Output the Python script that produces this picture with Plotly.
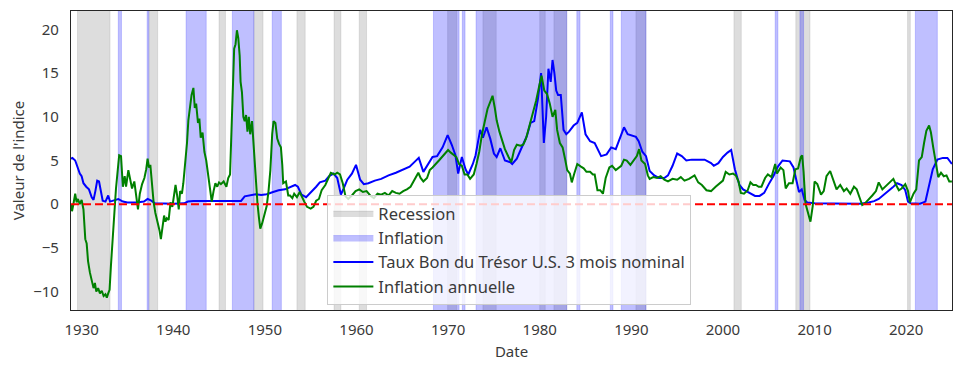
import plotly.graph_objects as go

# ---------------- data (decimal years) ----------------
recession_start = [1929.55, 1937.35, 1945.0, 1948.8, 1953.5, 1957.55, 1960.3, 1969.95,
                   1973.8, 1980.0, 1981.55, 1990.5, 2001.2, 2007.95, 2020.15]
recession_end = [1933.1, 1938.3, 1945.7, 1949.8, 1954.4, 1958.3, 1961.1, 1970.95,
                 1975.25, 1980.6, 1982.95, 1991.6, 2002.0, 2009.5, 2020.45]

inflation_start = [1934.0, 1937.15, 1941.4, 1946.45, 1950.8, 1968.4, 1971.55, 1973.05,
                   1984.05, 1987.7, 1988.9, 2005.7, 2008.4, 2021.0]
inflation_end = [1934.35, 1937.33, 1943.6, 1948.8, 1951.8, 1971.2, 1971.85, 1982.95,
                 1984.4, 1988.0, 1991.6, 2006.0, 2008.8, 2023.4]

tbill_dates = [1928.84, 1929.0, 1929.3, 1929.6, 1929.8, 1930.0, 1930.2, 1930.5, 1930.8, 1931.1,
               1931.3, 1931.5, 1931.7, 1931.9, 1932.1, 1932.3, 1932.6, 1932.9, 1933.1, 1933.5,
               1934.0, 1934.5, 1935.0, 1936.0, 1936.8, 1937.2, 1937.6, 1938.0, 1939.0, 1940.0,
               1941.2, 1941.6, 1942.2, 1947.4, 1947.8, 1948.3, 1949.0, 1949.6, 1950.2, 1950.9,
               1951.5, 1952.2, 1952.8, 1953.3, 1953.6, 1954.0, 1954.5, 1955.0, 1955.6, 1956.0,
               1956.6, 1957.0, 1957.5, 1957.9, 1958.3, 1958.6, 1959.0, 1959.5, 1959.95, 1960.4,
               1960.8, 1961.3, 1962.0, 1962.7, 1963.5, 1964.3, 1965.0, 1965.8, 1966.4, 1966.8,
               1967.3, 1967.8, 1968.3, 1968.8, 1969.4, 1969.95, 1970.4, 1970.8, 1971.1, 1971.5,
               1971.9, 1972.2, 1972.7, 1973.0, 1973.5, 1973.8, 1974.2, 1974.6, 1975.0, 1975.3,
               1975.7, 1976.2, 1976.8, 1977.0, 1977.5, 1978.0, 1978.6, 1979.0, 1979.4, 1979.8,
               1980.15, 1980.3, 1980.45, 1980.7, 1980.95, 1981.2, 1981.4, 1981.6, 1981.8, 1982.0,
               1982.3, 1982.6, 1982.9, 1983.2, 1983.7, 1984.1, 1984.6, 1985.0, 1985.5, 1986.0,
               1986.7, 1987.3, 1987.8, 1988.3, 1988.8, 1989.2, 1989.6, 1990.0, 1990.5, 1990.8,
               1991.2, 1991.6, 1992.0, 1992.5, 1993.0, 1993.6, 1994.0, 1994.5, 1995.0, 1995.5,
               1996.0, 1996.6, 1997.3, 1998.0, 1998.7, 1999.0, 1999.5, 2000.0, 2000.5, 2000.9,
               2001.3, 2001.8, 2002.2, 2002.9, 2003.5, 2004.0, 2004.5, 2005.0, 2005.5, 2006.0,
               2006.5, 2007.3, 2007.7, 2008.0, 2008.3, 2008.6, 2008.9, 2009.2, 2010.0, 2012.0,
               2015.0, 2015.9, 2016.5, 2017.0, 2017.5, 2018.0, 2018.5, 2019.0, 2019.5, 2019.9,
               2020.2, 2020.5, 2021.5, 2022.1, 2022.5, 2022.9, 2023.4, 2024.0, 2024.5, 2024.99]
tbill_values = [5.2, 5.3, 5.0, 4.0, 3.5, 3.2, 2.4, 2.0, 1.7, 0.8,
                0.5, 1.5, 2.7, 2.6, 1.5, 0.4, 0.3, 1.0, 0.3, 0.4,
                0.6, 0.3, 0.2, 0.2, 0.3, 0.6, 0.4, 0.1, 0.05, 0.05,
                0.1, 0.3, 0.37, 0.38, 0.9, 1.0, 1.15, 1.05, 1.15, 1.4,
                1.6, 1.7, 2.0, 2.2, 2.0, 1.1, 0.8, 1.3, 2.0, 2.5,
                2.7, 3.2, 3.5, 3.0, 1.1, 1.8, 2.8, 3.5, 4.5, 2.8,
                2.3, 2.4, 2.7, 2.9, 3.3, 3.6, 3.9, 4.3, 4.9, 5.3,
                3.7, 4.6, 5.4, 5.5, 6.5, 7.9, 6.8, 5.6, 3.5, 5.4,
                4.0, 3.4, 4.6, 5.6, 8.5, 7.6, 8.8, 7.5, 5.8, 5.4,
                6.4, 5.0, 4.8, 4.6, 5.2, 6.4, 7.8, 9.3, 9.5, 12.0,
                15.0, 11.0, 7.0, 10.0, 15.5, 14.0, 16.5, 15.0, 13.0, 12.5,
                12.5, 8.5, 8.0, 8.3, 9.0, 9.3, 10.5, 8.0, 7.2, 7.0,
                5.5, 5.7, 6.5, 6.3, 7.8, 8.8, 8.0, 7.9, 7.7, 7.2,
                6.0, 5.5, 3.8, 3.3, 3.0, 3.0, 3.3, 4.4, 5.8, 5.5,
                5.0, 5.1, 5.1, 5.1, 4.7, 4.4, 4.7, 5.4, 5.9, 6.2,
                4.0, 2.2, 1.7, 1.3, 0.95, 0.95, 1.3, 2.3, 3.2, 4.3,
                5.0, 4.9, 4.2, 2.8, 1.4, 1.7, 0.5, 0.2, 0.1, 0.08,
                0.05, 0.2, 0.35, 0.6, 1.0, 1.4, 1.9, 2.4, 2.2, 1.6,
                0.3, 0.1, 0.05, 0.3, 2.0, 4.0, 5.1, 5.3, 5.3, 4.6]

infl_dates = [1928.84, 1928.95, 1929.1, 1929.3, 1929.45, 1929.6, 1929.8, 1930.0, 1930.2, 1930.4,
              1930.55, 1930.7, 1930.9, 1931.1, 1931.3, 1931.45, 1931.6, 1931.8, 1932.0, 1932.2,
              1932.4, 1932.6, 1932.75, 1932.9, 1933.05, 1933.2, 1933.35, 1933.55, 1933.75, 1933.95,
              1934.1, 1934.3, 1934.5, 1934.7, 1934.85, 1935.1, 1935.3, 1935.5, 1935.75, 1936.0,
              1936.15, 1936.35, 1936.6, 1936.85, 1937.05, 1937.2, 1937.35, 1937.5, 1937.7, 1937.85,
              1938.05, 1938.3, 1938.5, 1938.65, 1938.8, 1939.0, 1939.15, 1939.3, 1939.5, 1939.7,
              1939.9, 1940.1, 1940.25, 1940.45, 1940.6, 1940.75, 1940.95, 1941.1, 1941.3, 1941.5,
              1941.65, 1941.85, 1942.0, 1942.2, 1942.35, 1942.5, 1942.7, 1942.85, 1943.0, 1943.2,
              1943.4, 1943.6, 1943.8, 1944.0, 1944.2, 1944.4, 1944.6, 1944.8, 1945.0, 1945.2,
              1945.5, 1945.8, 1946.0, 1946.2, 1946.35, 1946.5, 1946.65, 1946.8, 1946.95, 1947.1,
              1947.25, 1947.35, 1947.5, 1947.65, 1947.8, 1947.95, 1948.1, 1948.25, 1948.4, 1948.6,
              1948.75, 1948.9, 1949.05, 1949.2, 1949.35, 1949.5, 1949.7, 1949.85, 1950.0, 1950.2,
              1950.4, 1950.6, 1950.8, 1950.95, 1951.15, 1951.35, 1951.55, 1951.75, 1951.9, 1952.0,
              1952.3, 1952.55, 1952.75, 1953.0, 1953.2, 1953.5, 1953.8, 1954.05, 1954.3, 1954.6,
              1955.0, 1955.3, 1955.6, 1955.9, 1956.2, 1956.6, 1956.9, 1957.2, 1957.6, 1957.9,
              1958.2, 1958.5, 1958.8, 1959.1, 1959.5, 1959.9, 1960.3, 1960.7, 1961.1, 1961.5,
              1961.9, 1962.3, 1962.7, 1963.1, 1963.5, 1963.9, 1964.3, 1964.7, 1965.1, 1965.5,
              1965.9, 1966.3, 1966.75, 1967.0, 1967.3, 1967.7, 1968.0, 1968.3, 1968.7, 1969.0,
              1969.5, 1970.0, 1970.3, 1970.6, 1970.9, 1971.2, 1971.5, 1971.8, 1972.1, 1972.4,
              1972.8, 1973.1, 1973.4, 1973.7, 1974.0, 1974.3, 1974.6, 1974.85, 1975.1, 1975.3,
              1975.6, 1975.9, 1976.2, 1976.6, 1976.9, 1977.2, 1977.5, 1977.9, 1978.2, 1978.5,
              1978.9, 1979.2, 1979.6, 1979.9, 1980.2, 1980.5, 1980.8, 1981.1, 1981.4, 1981.7,
              1981.9, 1982.2, 1982.5, 1982.8, 1983.0, 1983.3, 1983.5, 1983.8, 1984.1, 1984.5,
              1984.8, 1985.1, 1985.5, 1985.8, 1986.0, 1986.3, 1986.6, 1986.9, 1987.2, 1987.6,
              1987.9, 1988.3, 1988.6, 1988.9, 1989.2, 1989.5, 1989.9, 1990.3, 1990.6, 1990.85,
              1991.1, 1991.5, 1991.8, 1992.0, 1992.4, 1992.8, 1993.2, 1993.6, 1994.0, 1994.5,
              1995.0, 1995.4, 1995.8, 1996.3, 1996.9, 1997.3, 1997.7, 1998.2, 1998.7, 1999.2,
              1999.6, 2000.0, 2000.3, 2000.7, 2001.1, 2001.4, 2001.7, 2001.95, 2002.3, 2002.7,
              2003.0, 2003.3, 2003.6, 2003.9, 2004.2, 2004.6, 2004.9, 2005.3, 2005.7, 2005.9,
              2006.3, 2006.6, 2006.85, 2007.2, 2007.6, 2007.9, 2008.2, 2008.5, 2008.65, 2008.8,
              2009.0, 2009.2, 2009.55, 2009.8, 2010.0, 2010.3, 2010.7, 2011.0, 2011.3, 2011.7,
              2012.0, 2012.4, 2012.8, 2013.2, 2013.5, 2013.9, 2014.3, 2014.6, 2014.9, 2015.2,
              2015.5, 2015.9, 2016.3, 2016.7, 2017.0, 2017.4, 2017.8, 2018.2, 2018.6, 2018.9,
              2019.2, 2019.5, 2019.9, 2020.2, 2020.4, 2020.8, 2021.1, 2021.4, 2021.7, 2021.95,
              2022.2, 2022.5, 2022.7, 2022.95, 2023.2, 2023.5, 2023.8, 2024.1, 2024.4, 2024.7,
              2024.99]
infl_values = [0.0, -0.8, 0.0, 1.2, 0.2, 0.6, 0.0, 0.5, -0.6, -4.0,
               -4.5, -6.5, -7.8, -8.8, -9.6, -9.0, -10.0, -9.6, -10.2, -9.9,
               -10.5, -10.3, -10.7, -10.2, -9.8, -7.0, -4.5, -1.0, 1.8, 4.0,
               5.6, 5.5, 2.0, 3.2, 2.0, 3.9, 2.8, 1.8, 2.6, 0.5,
               -0.6, 1.2, 2.3, 3.0, 4.0, 5.2, 4.2, 4.5, 2.0, 0.3,
               -1.0, -2.0, -3.0, -4.0, -2.5, -1.3, -2.0, -1.6, -1.8, 0.2,
               -0.3, 1.5, 2.2, 0.8, -0.6, 1.5, 1.2, 2.4, 4.5, 7.0,
               9.6, 11.0, 12.5, 13.3, 11.0, 11.5, 9.3, 9.8, 7.6, 8.2,
               6.0, 5.0, 3.5, 1.5, 0.3, 1.5, 2.4, 2.0, 2.5, 2.3,
               2.6, 2.0, 3.0, 3.4, 8.0, 14.0, 17.8, 18.3, 19.9, 19.0,
               17.0, 14.0, 12.8, 10.0, 9.5, 10.2, 8.3, 10.0, 8.0, 9.5,
               7.0, 5.0, 2.5, 0.0, -1.5, -2.8, -2.2, -1.6, -1.0, -0.2,
               1.5, 3.9, 8.0, 9.5, 9.3, 7.5, 6.9, 6.5, 4.5, 2.4,
               2.6, 1.0, 1.0, 0.7, 1.2, 0.8, 1.4, 0.8, 0.3, -0.3,
               -0.5, -0.3, 0.4, 0.6, 1.6, 2.2, 3.0, 3.6, 3.4, 3.6,
               3.4, 2.4, 0.9, 0.6, 1.0, 1.5, 1.7, 1.4, 1.5, 1.0,
               0.7, 1.2, 1.1, 1.3, 1.0, 1.5, 1.3, 1.2, 1.5, 1.7,
               2.0, 2.8, 3.6, 3.0, 2.6, 3.0, 3.9, 4.2, 4.6, 5.0,
               5.6, 6.2, 5.9, 5.6, 5.4, 4.6, 4.4, 3.4, 3.4, 2.9,
               3.4, 4.6, 6.0, 8.0, 9.6, 10.9, 11.7, 12.4, 11.0, 9.6,
               8.3, 7.2, 6.3, 5.4, 4.8, 6.2, 6.8, 6.7, 6.8, 7.5,
               9.0, 10.3, 11.8, 13.3, 14.7, 13.0, 12.6, 11.5, 10.0, 10.8,
               8.5, 7.0, 6.5, 5.0, 3.9, 3.5, 2.5, 3.6, 4.6, 4.3,
               4.1, 3.7, 3.7, 3.4, 3.4, 1.6, 1.6, 1.2, 3.0, 4.2,
               4.4, 3.9, 4.1, 4.4, 5.1, 5.0, 4.5, 5.0, 5.5, 6.3,
               5.0, 4.6, 3.3, 2.9, 3.1, 3.0, 3.2, 2.8, 2.6, 2.9,
               2.8, 3.1, 2.7, 2.9, 3.3, 2.5, 2.2, 1.6, 1.5, 2.0,
               2.3, 2.7, 3.7, 3.4, 3.5, 3.3, 2.6, 1.3, 1.2, 1.6,
               2.5, 2.2, 2.2, 2.0, 2.0, 3.0, 3.4, 3.1, 4.6, 3.5,
               4.2, 3.9, 1.8, 2.4, 2.4, 4.0, 4.1, 5.4, 5.6, 3.7,
               0.1, -0.6, -2.0, -0.2, 2.6, 2.3, 1.1, 1.5, 3.2, 3.8,
               2.9, 1.7, 2.2, 1.5, 1.8, 1.2, 2.0, 1.7, 0.8, -0.1,
               0.1, 0.5, 1.0, 1.5, 2.5, 1.7, 2.1, 2.4, 2.9, 2.2,
               1.6, 1.8, 2.3, 1.5, 0.2, 1.2, 1.7, 5.0, 5.4, 7.0,
               8.4, 9.0, 8.2, 6.5, 5.0, 3.1, 3.6, 3.2, 3.3, 2.6,
               2.6]

x_range = [1928.84, 2025.0]
y_range = [-12.1, 22.1]
y_ticks = [-10, -5, 0, 5, 10, 15, 20]
x_ticks = [1930, 1940, 1950, 1960, 1970, 1980, 1990, 2000, 2010, 2020]

# ---------------- figure ----------------
def band_polygons(starts, ends):
    xs, ys = [], []
    for s, e in zip(starts, ends):
        xs += [s, s, e, e, s, None]
        ys += [-100, 100, 100, -100, -100, None]
    return xs, ys

FONT = "Noto Sans"
TXT = "#3a3a3a"

fig = go.Figure()

rx, ry = band_polygons(recession_start, recession_end)
fig.add_trace(go.Scatter(x=rx, y=ry, fill="toself", mode="lines", name="Recession",
                         fillcolor="rgba(128,128,128,0.27)",
                         line=dict(color="rgba(128,128,128,0.2)", width=1),
                         hoverinfo="skip"))
ix, iy = band_polygons(inflation_start, inflation_end)
fig.add_trace(go.Scatter(x=ix, y=iy, fill="toself", mode="lines", name="Inflation",
                         fillcolor="rgba(0,0,255,0.25)",
                         line=dict(color="rgba(0,0,255,0.18)", width=1),
                         hoverinfo="skip"))
fig.add_trace(go.Scatter(x=tbill_dates, y=tbill_values, mode="lines",
                         name="Taux Bon du Trésor U.S. 3 mois nominal",
                         line=dict(color="#0000ff", width=2)))
fig.add_trace(go.Scatter(x=infl_dates, y=infl_values, mode="lines",
                         name="Inflation annuelle",
                         line=dict(color="#008000", width=2)))

fig.add_shape(type="line", xref="paper", x0=0, x1=1, yref="y", y0=0, y1=0,
              line=dict(color="red", width=2, dash="8px,4px"), layer="above")

# page body has an 8px default margin: the figure is sized to fit inside it
fig.update_layout(
    width=945, height=353,
    margin=dict(l=63, r=1, t=3, b=51),
    paper_bgcolor="white", plot_bgcolor="white",
    font=dict(family=FONT, size=15, color=TXT),
    showlegend=True,
    legend=dict(x=0.291, y=0.385, xanchor="left", yanchor="top",
                bgcolor="rgba(255,255,255,0.8)", bordercolor="#cccccc", borderwidth=1,
                font=dict(family=FONT, size=16.5, color=TXT),
                itemwidth=40, tracegroupgap=0),
    xaxis=dict(range=x_range, tickvals=x_ticks, ticktext=[str(t) for t in x_ticks],
               showgrid=False, zeroline=False, showline=True, mirror=True,
               linecolor="#262626", linewidth=1.2, ticks="", ticklabelstandoff=6,
               title=dict(text="Date", standoff=8, font=dict(size=15, color=TXT)),
               tickfont=dict(size=15, color=TXT)),
    yaxis=dict(range=y_range, tickvals=y_ticks,
               ticktext=[("\u2212" + str(-t)) if t < 0 else str(t) for t in y_ticks],
               showgrid=False, zeroline=False, showline=True, mirror=True,
               linecolor="#262626", linewidth=1.2, ticks="", ticklabelstandoff=8,
               title=dict(text="Valeur de l'indice", standoff=10, font=dict(size=15, color=TXT)),
               tickfont=dict(size=15, color=TXT)),
)

fig.write_html("out.html")
